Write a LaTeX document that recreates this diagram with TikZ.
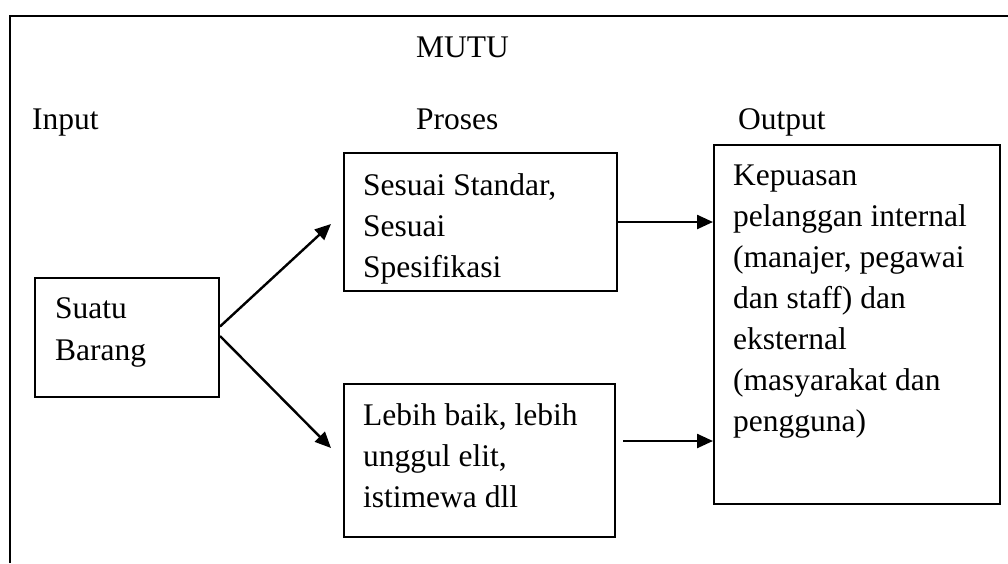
\documentclass[tikz,border=0pt]{standalone}
\usepackage{fontspec}
\setmainfont{Liberation Serif}
\usetikzlibrary{arrows.meta}
\begin{document}
\begin{tikzpicture}[x=1pt,y=-1pt,
  box/.style={draw, line width=2pt, inner sep=0pt, anchor=north west},
  txt/.style={inner sep=0pt, anchor=base west, font=\fontsize{31.5}{41}\selectfont},
  arr/.style={line width=2.4pt, -{Triangle[length=16pt,width=14pt]}}]
\useasboundingbox (0,0) rectangle (1008,563);
% outer frame (top and left only)
\draw[line width=2.6pt] (10,563) -- (10,16) -- (1008,16);
% headings
\node[txt] (mutu) at (416,57) {MUTU};
\node[txt] (input) at (32,129) {Input};
\node[txt] (proses) at (416,129) {Proses};
\node[txt] (output) at (738,129) {Output};
% boxes
\node[box, minimum width=184pt, minimum height=119pt] (s) at (34,277) {};
\node[box, minimum width=273pt, minimum height=138pt] (b1) at (343,152) {};
\node[box, minimum width=271pt, minimum height=153pt] (b2) at (343,383) {};
\node[box, minimum width=286pt, minimum height=359pt] (k) at (713,144) {};
% box texts
\node[txt] (ts) at (55,318) {\parbox[t]{160pt}{\raggedright Suatu\\[1pt]Barang}};
\node[txt] (tb1) at (363,195) {\parbox[t]{250pt}{\raggedright Sesuai Standar,\\Sesuai\\Spesifikasi}};
\node[txt] (tb2) at (363,425) {\parbox[t]{250pt}{\raggedright Lebih baik, lebih\\unggul elit,\\istimewa dll}};
\node[txt] (tk) at (733,185) {\parbox[t]{262pt}{\raggedright Kepuasan\\pelanggan internal\\(manajer, pegawai\\dan staff) dan\\eksternal\\(masyarakat dan\\pengguna)}};
% connectors
\draw[arr] ([yshift=11pt]s.east) -- ([xshift=-12pt,yshift=-2pt]b1.west);
\draw[arr] ([yshift=1.5pt]s.east) -- ([xshift=-12pt,yshift=12.5pt]b2.west);
\draw[arr] (b1.east) -- (b1.east -| k.west);
\draw[arr] ([xshift=7pt,yshift=19.5pt]b2.east) -- ([yshift=19.5pt]b2.east -| k.west);
\end{tikzpicture}
\end{document}
